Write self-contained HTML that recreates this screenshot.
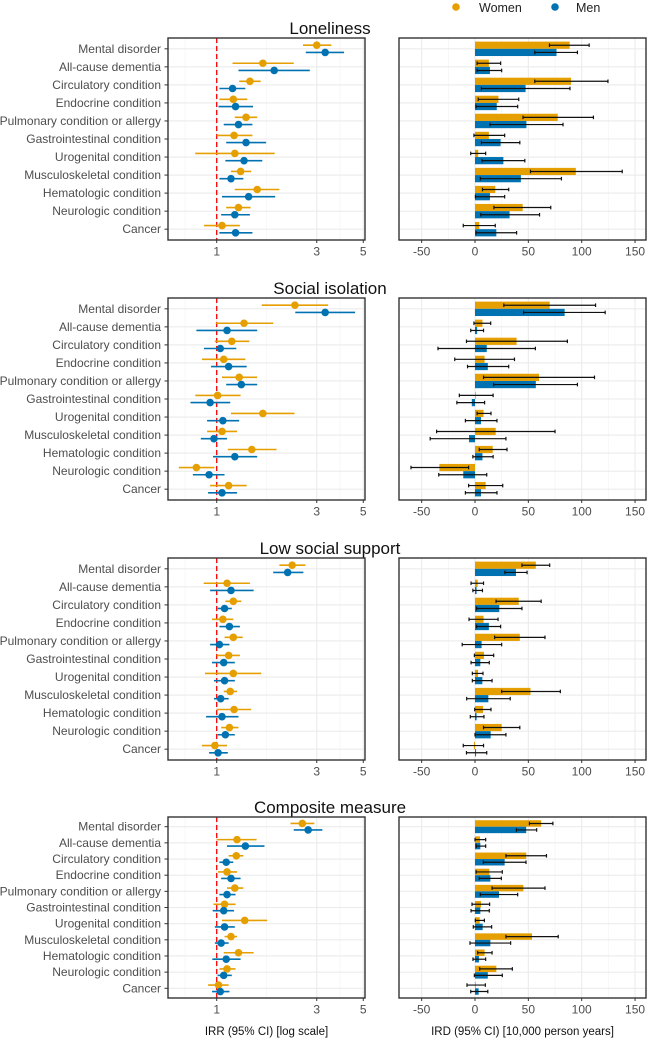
<!DOCTYPE html>
<html><head><meta charset="utf-8"><style>
html,body{margin:0;padding:0;background:#fff;}
svg{display:block;font-family:"Liberation Sans",Arial,sans-serif;}
</style></head><body>
<svg id="chart" width="648" height="1039" viewBox="0 0 648 1039" xmlns="http://www.w3.org/2000/svg"></svg>
<script>
const categories=["Mental disorder","All-cause dementia","Circulatory condition","Endocrine condition","Pulmonary condition or allergy","Gastrointestinal condition","Urogenital condition","Musculoskeletal condition","Hematologic condition","Neurologic condition","Cancer"];
const panelTitles=["Loneliness","Social isolation","Low social support","Composite measure"];
const irrTicks=[1,3,5];
const irdTicks=[-50,0,50,100,150];
// IRR [est, lo, hi] women / men
const irrWomen=[
[[3.0,2.58,3.52],[1.66,1.19,2.33],[1.44,1.28,1.62],[1.20,1.03,1.40],[1.38,1.22,1.56],[1.21,1.0,1.48],[1.22,0.79,1.89],[1.30,1.17,1.46],[1.56,1.22,1.99],[1.27,1.11,1.45],[1.06,0.87,1.29]],
[[2.36,1.64,3.40],[1.35,0.99,1.86],[1.18,0.98,1.43],[1.08,0.85,1.37],[1.28,1.06,1.56],[1.01,0.79,1.30],[1.66,1.17,2.35],[1.06,0.90,1.25],[1.47,1.13,1.93],[0.80,0.66,0.975],[1.14,0.93,1.39]],
[[2.29,1.99,2.65],[1.12,0.867,1.44],[1.20,1.10,1.31],[1.07,0.95,1.20],[1.20,1.09,1.33],[1.14,1.0,1.29],[1.20,0.88,1.63],[1.16,1.08,1.25],[1.21,1.0,1.46],[1.15,1.05,1.27],[0.98,0.85,1.12]],
[[2.56,2.25,2.92],[1.25,1.0,1.55],[1.24,1.14,1.34],[1.12,1.015,1.25],[1.22,1.12,1.34],[1.09,0.965,1.23],[1.36,1.06,1.74],[1.17,1.09,1.25],[1.27,1.08,1.50],[1.12,1.03,1.23],[1.02,0.91,1.14]]];
const irrMen=[
[[3.29,2.66,4.05],[1.88,1.27,2.78],[1.19,1.03,1.37],[1.23,1.02,1.49],[1.27,1.08,1.48],[1.38,1.11,1.72],[1.35,1.10,1.65],[1.17,1.03,1.34],[1.42,1.06,1.90],[1.22,1.05,1.44],[1.23,1.03,1.48]],
[[3.29,2.37,4.57],[1.12,0.80,1.56],[1.04,0.87,1.24],[1.14,0.94,1.39],[1.31,1.11,1.56],[0.93,0.75,1.16],[1.07,0.90,1.28],[0.97,0.84,1.12],[1.22,0.96,1.56],[0.92,0.77,1.09],[1.06,0.91,1.25]],
[[2.18,1.86,2.59],[1.17,0.93,1.50],[1.09,1.01,1.18],[1.15,1.03,1.29],[1.03,0.93,1.15],[1.08,0.95,1.22],[1.09,0.97,1.22],[1.045,0.97,1.14],[1.06,0.89,1.27],[1.10,1.01,1.22],[1.015,0.92,1.13]],
[[2.73,2.33,3.19],[1.37,1.12,1.69],[1.11,1.03,1.20],[1.17,1.05,1.30],[1.12,1.03,1.23],[1.08,0.957,1.21],[1.09,0.98,1.22],[1.05,0.98,1.14],[1.11,0.953,1.30],[1.08,1.01,1.18],[1.04,0.95,1.15]]];
// IRD [est, lo, hi]
const irdWomen=[
[[88.7,69.8,107],[13,2,24],[90,56,124.6],[22,3,41],[77.5,45,111],[13,-1,27.8],[3,-4,10],[94.5,52,138],[19,7,31.6],[44.7,17.7,71],[4,-11,19]],
[[70,27,113],[7,-1,14.7],[39,-8,86.6],[9,-19,37],[60,8,112],[0.6,-14.7,17],[8,2,15],[19.4,-36,75],[16.6,4,30],[-33.4,-60,-6],[10,-6,26]],
[[57,44,70],[2.5,-3.7,8],[41,19.7,62],[8,-5.6,21.6],[42,18.4,65.6],[8.4,-0.6,17.5],[2.8,-2.5,7.5],[52,25,80],[7.5,-0.3,15],[25,8,42],[-1,-11,8]],
[[62,51,73],[4.7,0,10],[48,29,67],[13.4,1,25.6],[45.3,16,65.6],[5.6,-2.8,13.7],[4.4,0.3,8.8],[53.4,29,78],[9,2.5,16],[20,4.4,35],[0.3,-7.5,9.7]]];
const irdMen=[
[[76.4,56,96],[14,2,25],[47.4,6,89],[20.4,1,40],[48.2,14,82.5],[24,6,42],[26.6,6.6,46.7],[43,5,81],[14,0.4,27.8],[32.4,5.4,60.5],[20,1,39]],
[[84,45.6,122],[2,-4,8],[11,-34.7,56.6],[12,-7,31.6],[57,17.5,96],[-3,-17,9],[5.6,-9,20.6],[-5.6,-42,29],[7,-2,17],[-11,-34,11],[5.6,-9,20.6]],
[[38.4,28,48.8],[1.5,-2,7],[22.8,1.5,44],[13,1.5,24],[6.2,-12,25],[5,-3.7,13.4],[6.9,-2.5,16],[12.5,-7.8,33],[1.5,-4.4,8.4],[14.7,0,29],[1,-8,11]],
[[48,38.8,57.8],[5,1.2,10],[27.8,7.8,47.8],[14.4,4,24.7],[22.5,5,40],[5,-3.7,13.4],[7.2,-1.6,15.6],[14.4,-4.7,33.4],[3.7,-1.9,10],[12,-0.6,25.6],[3.4,-4,12]]];

const NS="http://www.w3.org/2000/svg";
const svg=document.getElementById('chart');
const W="#E69F00",M="#0072B2";
function mk(tag,attrs,parent,text){const e=document.createElementNS(NS,tag);for(const k in attrs)e.setAttribute(k,attrs[k]);if(text!==undefined)e.textContent=text;(parent||svg).appendChild(e);return e;}
const LX0=168,LX1=365,RX0=399,RX1=646;
function lx(v){return 216.7+209.7*Math.log10(v);}
function rx(v){return 475+1.067*v;}
const tops=[38,298,558,817],hts=[202,202,202,181];

// legend
const leg=mk('g',{});


const lw=mk('g',{},leg);


mk('circle',{cx:456,cy:7,r:3.8,fill:W},lw);
mk('text',{x:479,y:12,'font-size':12.5,fill:'#222'},lw,'Women');
const lm=mk('g',{},leg);


mk('circle',{cx:555,cy:7,r:3.8,fill:M},lm);
mk('text',{x:576,y:12,'font-size':12.5,fill:'#222'},lm,'Men');

for(let p=0;p<4;p++){
  const top=tops[p],h=hts[p],bot=top+h,unit=h/11.2;
  const ry=i=>top+unit*(0.6+i);
  const g=mk('g',{});
  
  
  const t=mk('text',{x:330,y:top-4,'font-size':17,'text-anchor':'middle',fill:'#111'},g,panelTitles[p]);
  
  
  const lg=mk('g',{},g);
  
  
  [0.707,1.732,3.873].forEach(v=>mk('line',{x1:lx(v),x2:lx(v),y1:top,y2:bot,stroke:'#f2f2f2','stroke-width':0.6},lg));
  irrTicks.forEach(v=>mk('line',{x1:lx(v),x2:lx(v),y1:top,y2:bot,stroke:'#ebebeb','stroke-width':1.1},lg));
  categories.forEach((c,i)=>mk('line',{x1:LX0,x2:LX1,y1:ry(i),y2:ry(i),stroke:'#ebebeb','stroke-width':1.1},lg));
  const rg=mk('g',{},g);
  
  
  [-25,25,75,125].forEach(v=>mk('line',{x1:rx(v),x2:rx(v),y1:top,y2:bot,stroke:'#f2f2f2','stroke-width':0.6},rg));
  irdTicks.forEach(v=>mk('line',{x1:rx(v),x2:rx(v),y1:top,y2:bot,stroke:'#ebebeb','stroke-width':1.1},rg));
  categories.forEach((c,i)=>mk('line',{x1:RX0,x2:RX1,y1:ry(i),y2:ry(i),stroke:'#ebebeb','stroke-width':1.1},rg));
  const ref=mk('line',{x1:lx(1),x2:lx(1),y1:top,y2:bot,stroke:'#ff0000','stroke-width':1.3,'stroke-dasharray':'5,3'},g);
  
  
  categories.forEach((c,i)=>{
    [[irrWomen,W,-0.2,'women'],[irrMen,M,0.2,'men']].forEach(([arr,col,off,nm])=>{
      const d=arr[p][i],y=ry(i)+off*unit;
      const pg=mk('g',{},g);
      
      
      mk('line',{x1:lx(d[1]),x2:lx(d[2]),y1:y,y2:y,stroke:col,'stroke-width':1.6},pg);
      mk('circle',{cx:lx(d[0]),cy:y,r:3.8,fill:col},pg);
    });
    [[irdWomen,W,-0.4,'women'],[irdMen,M,0,'men']].forEach(([arr,col,off,nm])=>{
      const d=arr[p][i],y0=ry(i)+off*unit,bh=0.4*unit;
      const x0=Math.min(rx(0),rx(d[0])),bw=Math.abs(rx(d[0])-rx(0));
      const bg=mk('g',{},g);
      
      
      mk('rect',{x:x0,y:y0,width:Math.max(bw,0.8),height:bh,fill:col},bg);
      const yc=y0+bh/2;
      mk('line',{x1:rx(d[1]),x2:rx(d[2]),y1:yc,y2:yc,stroke:'#111','stroke-width':1.2},bg);
      mk('line',{x1:rx(d[1]),x2:rx(d[1]),y1:yc-1.8,y2:yc+1.8,stroke:'#111','stroke-width':1.2},bg);
      mk('line',{x1:rx(d[2]),x2:rx(d[2]),y1:yc-1.8,y2:yc+1.8,stroke:'#111','stroke-width':1.2},bg);
    });
    const lb=mk('text',{x:161,y:ry(i)+4,'font-size':12,'text-anchor':'end',fill:'#4d4d4d'},g,c);
    
    
    mk('line',{x1:164.5,x2:LX0,y1:ry(i),y2:ry(i),stroke:'#333','stroke-width':1},g);
  });
  const b1=mk('rect',{x:LX0,y:top,width:LX1-LX0,height:h,fill:'none',stroke:'#333','stroke-width':1.4},g);
  
  
  const b2=mk('rect',{x:RX0,y:top,width:RX1-RX0,height:h,fill:'none',stroke:'#333','stroke-width':1.4},g);
  
  
  irrTicks.forEach(v=>{
    mk('line',{x1:lx(v),x2:lx(v),y1:bot,y2:bot+3,stroke:'#333','stroke-width':1},g);
    const tl=mk('text',{x:lx(v),y:bot+15.5,'font-size':12,'text-anchor':'middle',fill:'#4d4d4d'},g,String(v));
    
    
  });
  irdTicks.forEach(v=>{
    mk('line',{x1:rx(v),x2:rx(v),y1:bot,y2:bot+3,stroke:'#333','stroke-width':1},g);
    const tl=mk('text',{x:rx(v),y:bot+15.5,'font-size':12,'text-anchor':'middle',fill:'#4d4d4d'},g,String(v));
    
    
  });
}
const xt1=mk('text',{x:266.5,y:1035,'font-size':11.5,'text-anchor':'middle',fill:'#111'},svg,'IRR (95% CI) [log scale]');


const xt2=mk('text',{x:522.5,y:1035,'font-size':11.5,'text-anchor':'middle',fill:'#111'},svg,'IRD (95% CI) [10,000 person years]');


</script>
</body></html>
